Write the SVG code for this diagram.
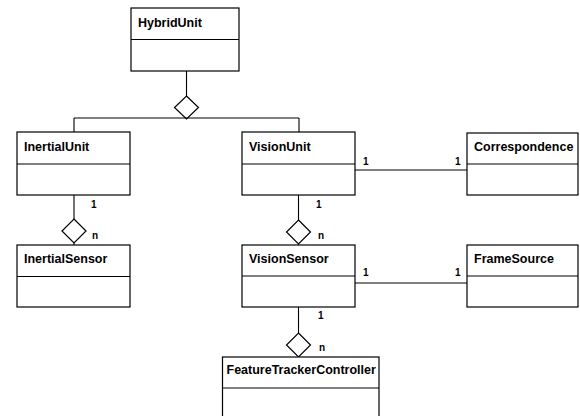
<svg xmlns="http://www.w3.org/2000/svg" width="580" height="416" viewBox="0 0 580 416">
<style>
.box{fill:#fff;stroke:#000;stroke-width:1.2}
.div{stroke:#000;stroke-width:1.1}
.name{font-family:"Liberation Sans",Arial,sans-serif;font-weight:bold;font-size:12.5px;fill:#000}
.mult{font-family:"Liberation Sans",Arial,sans-serif;font-weight:bold;font-size:10px;fill:#000}
.ln{fill:none;stroke:#000;stroke-width:1.1}
.dia{fill:#fff;stroke:#000;stroke-width:1.2}
</style>
<rect width="580" height="416" fill="#fff"/>
<g id="connectors">
<path class="ln" d="M186.5 71V96"/>
<path class="dia" d="M186.5 96L198.5 107.5L186.5 119L174.5 107.5Z"/>
<path class="ln" d="M74 118H299M74 118V132M299 118V132"/>
<path class="ln" d="M74 195V219"/>
<path class="dia" d="M74 219L86 231L74 243L62 231Z"/>
<path class="ln" d="M74 243V245"/>
<path class="ln" d="M298.5 195V220"/>
<path class="dia" d="M298.5 220L310.5 232L298.5 244L286.5 232Z"/>
<path class="ln" d="M298.5 244V245"/>
<path class="ln" d="M298.5 307V333"/>
<path class="dia" d="M298.5 333L310.5 345L298.5 357L286.5 345Z"/>
<path class="ln" d="M355 170H467"/>
<path class="ln" d="M355 283H467"/>
<text class="mult" x="91" y="208">1</text>
<text class="mult" x="92" y="239">n</text>
<text class="mult" x="316" y="208">1</text>
<text class="mult" x="318" y="239">n</text>
<text class="mult" x="318" y="319">1</text>
<text class="mult" x="319" y="351">n</text>
<text class="mult" x="363" y="165">1</text>
<text class="mult" x="455" y="165">1</text>
<text class="mult" x="363" y="276">1</text>
<text class="mult" x="455" y="276">1</text>
</g>
<g id="HybridUnit">
<rect class="box" x="131" y="8" width="108" height="63"/>
<path class="div" d="M131 39.5H239"/>
<text class="name" x="138" y="27">HybridUnit</text>
</g>
<g id="InertialUnit">
<rect class="box" x="17" y="132" width="113" height="63"/>
<path class="div" d="M17 164H130"/>
<text class="name" x="24" y="151">InertialUnit</text>
</g>
<g id="VisionUnit">
<rect class="box" x="242" y="132" width="113" height="63"/>
<path class="div" d="M242 164H355"/>
<text class="name" x="249" y="151">VisionUnit</text>
</g>
<g id="Correspondence">
<rect class="box" x="467" y="133" width="111" height="62"/>
<path class="div" d="M467 164H578"/>
<text class="name" x="474" y="151">Correspondence</text>
</g>
<g id="InertialSensor">
<rect class="box" x="17" y="245" width="113" height="62"/>
<path class="div" d="M17 276.5H130"/>
<text class="name" x="24" y="263">InertialSensor</text>
</g>
<g id="VisionSensor">
<rect class="box" x="242" y="245" width="113" height="62"/>
<path class="div" d="M242 276H355"/>
<text class="name" x="249" y="263">VisionSensor</text>
</g>
<g id="FrameSource">
<rect class="box" x="467" y="245" width="111" height="62"/>
<path class="div" d="M467 276H578"/>
<text class="name" x="474" y="263">FrameSource</text>
</g>
<g id="FeatureTrackerController">
<rect class="box" x="222.5" y="357" width="156.5" height="70"/>
<path class="div" d="M222.5 388H379"/>
<text class="name" x="226.5" y="374">FeatureTrackerController</text>
</g>
</svg>
